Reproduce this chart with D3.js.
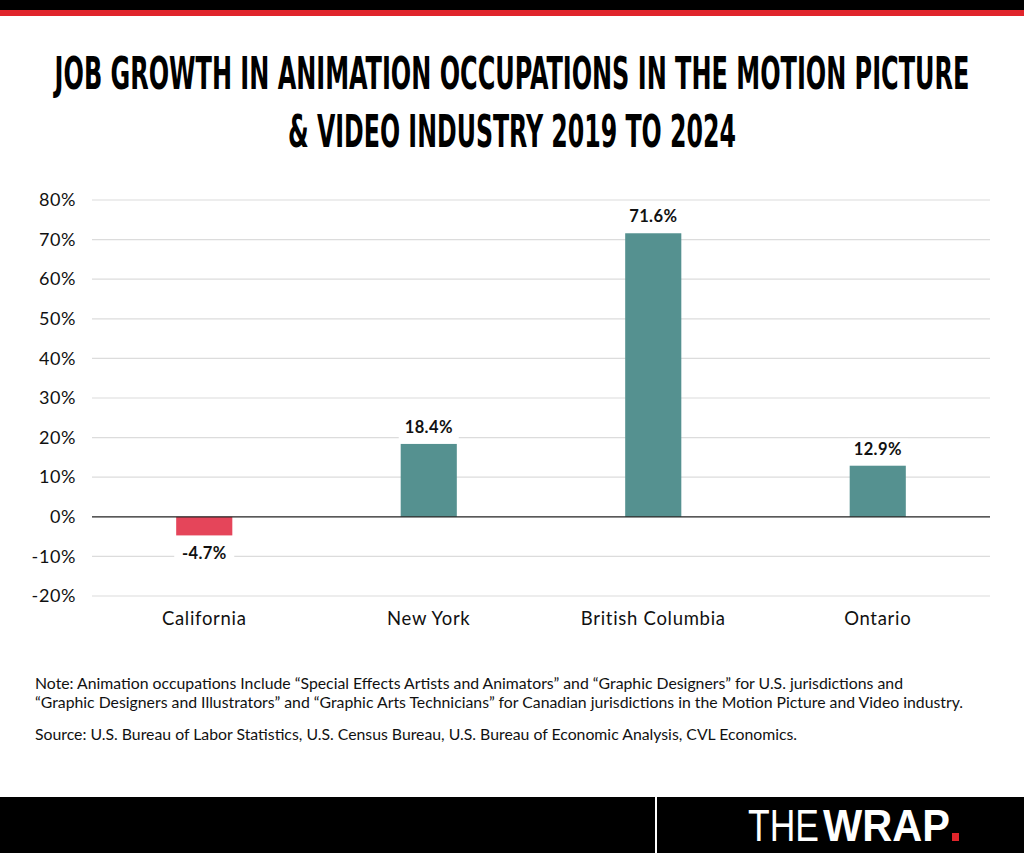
<html>
<head>
<script src="https://d3js.org/d3.v7.min.js"></script>
<style>
  body { margin: 0; background: #fff; }
  svg { display: block; }
  .tick text { font-family: Lato, "Open Sans", sans-serif; }
</style>
</head>
<body>
<svg id="chart" width="1024" height="853"></svg>
<script>
const regions = ["California", "New York", "British Columbia", "Ontario"]
const growth = [-4.7, 18.4, 71.6, 12.9]
const yTicks = [-20, -10, 0, 10, 20, 30, 40, 50, 60, 70, 80]
const titleLines = ["JOB GROWTH IN ANIMATION OCCUPATIONS IN THE MOTION PICTURE", "& VIDEO INDUSTRY 2019 TO 2024"]
const noteLines = [
  "Note: Animation occupations Include \u201CSpecial Effects Artists and Animators\u201D and \u201CGraphic Designers\u201D for U.S. jurisdictions and",
  "\u201CGraphic Designers and Illustrators\u201D and \u201CGraphic Arts Technicians\u201D for Canadian jurisdictions in the Motion Picture and Video industry."
]
const sourceLine = "Source: U.S. Bureau of Labor Statistics, U.S. Census Bureau, U.S. Bureau of Economic Analysis, CVL Economics."

const svg = d3.select("#chart")
const bodyFont = "Lato, 'Open Sans', sans-serif"

// squeeze a text horizontally to a given width, anchored at (x0, y0)
function fitWidth(sel, x0, y0, width) {
  sel.each(function(){
    const w = this.getComputedTextLength()
    d3.select(this).attr("transform", "translate(" + x0 + "," + y0 + ") scale(" + (width / w) + ",1)")
  })
}

// top bars
svg.append("rect").attr("x", 0).attr("y", 0).attr("width", 1024).attr("height", 10).attr("fill", "#000")
svg.append("rect").attr("x", 0).attr("y", 10).attr("width", 1024).attr("height", 6).attr("fill", "#e0252b")

// title
const titleWidths = [915, 448]
svg.append("g").selectAll("text").data(titleLines).enter().append("text")
  .attr("text-anchor", "middle")
  .attr("font-family", "'Liberation Sans Narrow', 'DejaVu Sans Condensed', sans-serif")
  .attr("font-weight", "bold")
  .attr("font-size", 44)
  .attr("fill", "#000")
  .text(function(d){ return d })
  .each(function(d, i){ fitWidth(d3.select(this), 512, 89 + i * 58, titleWidths[i]) })

// scales
const x = d3.scaleBand().domain(regions).range([92, 990]).paddingInner(0.75).paddingOuter(0.375)
const y = d3.scaleLinear().domain([-20, 80]).range([596, 200])

// gridlines
svg.append("g").selectAll("line").data(yTicks.filter(function(d){ return d != 0 })).enter().append("line")
  .attr("x1", 92).attr("x2", 990)
  .attr("y1", function(d){ return y(d) }).attr("y2", function(d){ return y(d) })
  .attr("stroke", "#dcdcdc").attr("stroke-width", 1.2)

// y axis labels
const yAxis = svg.append("g")
  .attr("transform", "translate(76,0)")
  .call(d3.axisLeft(y).tickValues(yTicks).tickSize(0).tickPadding(0).tickFormat(function(d){ return d + "%" }))
yAxis.select(".domain").remove()
yAxis.selectAll("text").attr("font-size", 18).attr("letter-spacing", 0.6).attr("fill", "#111")

// bars
svg.append("g").selectAll("rect").data(growth).enter().append("rect")
  .attr("x", function(d, i){ return x(regions[i]) })
  .attr("width", x.bandwidth())
  .attr("y", function(d){ return y(Math.max(0, d)) })
  .attr("height", function(d){ return Math.abs(y(d) - y(0)) })
  .attr("fill", function(d){ return d < 0 ? "#e5455a" : "#559190" })

// zero line
svg.append("line")
  .attr("x1", 92).attr("x2", 990).attr("y1", y(0)).attr("y2", y(0))
  .attr("stroke", "#222").attr("stroke-width", 1.2)

// value labels
const labels = svg.append("g").selectAll("g").data(growth).enter().append("g")
  .attr("transform", function(d, i){
    const cx = x(regions[i]) + x.bandwidth() / 2
    return "translate(" + cx + "," + (d < 0 ? y(d) + 24 : y(d) - 11) + ")"
  })
labels.append("rect")
  .attr("x", -30).attr("y", -16).attr("width", 60).attr("height", 22)
  .attr("fill", "#fff")
labels.append("text")
  .attr("text-anchor", "middle")
  .attr("font-family", bodyFont)
  .attr("font-weight", "bold")
  .attr("font-size", 16.5)
  .attr("letter-spacing", 0.4)
  .attr("fill", "#111")
  .text(function(d){ return d.toFixed(1) + "%" })

// category axis
const xAxis = svg.append("g")
  .attr("transform", "translate(0," + 612 + ")")
  .call(d3.axisBottom(x).tickSize(0).tickPadding(0))
xAxis.select(".domain").remove()
xAxis.selectAll("text").attr("font-size", 18.5).attr("letter-spacing", 0.7).attr("fill", "#111")

// note and source
svg.append("g").selectAll("text").data(noteLines).enter().append("text")
  .attr("x", 35)
  .attr("y", function(d, i){ return 689 + i * 19 })
  .attr("font-family", bodyFont)
  .attr("font-size", 15.8)
  .attr("fill", "#111")
  .text(function(d){ return d })
svg.append("text")
  .attr("x", 35).attr("y", 740)
  .attr("font-family", bodyFont)
  .attr("font-size", 15.8)
  .attr("fill", "#111")
  .text(sourceLine)

// footer
svg.append("rect").attr("x", 0).attr("y", 797).attr("width", 1024).attr("height", 56).attr("fill", "#000")
svg.append("rect").attr("x", 655).attr("y", 797).attr("width", 2).attr("height", 56).attr("fill", "#fff")
svg.append("text")
  .attr("font-family", "'Liberation Sans', sans-serif")
  .attr("font-weight", 200)
  .attr("font-size", 44)
  .attr("fill", "#fff")
  .text("THE")
  .call(fitWidth, 748, 841, 71)
svg.append("text")
  .attr("font-family", "'Liberation Sans', sans-serif")
  .attr("font-weight", "bold")
  .attr("font-size", 44)
  .attr("fill", "#fff")
  .text("WRAP")
  .call(fitWidth, 823, 841, 127)
svg.append("rect").attr("x", 952).attr("y", 833).attr("width", 7).attr("height", 8).attr("fill", "#e0252b")
</script>
</body>
</html>
